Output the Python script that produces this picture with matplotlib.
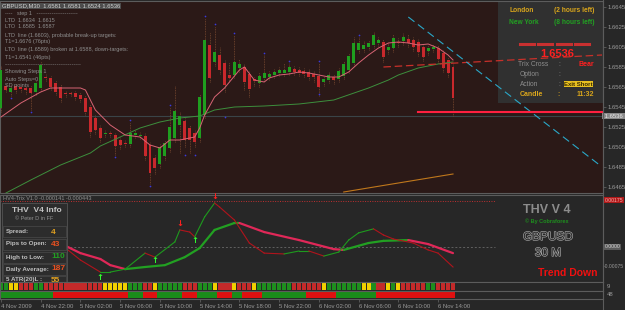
import matplotlib
matplotlib.use("Agg")
import matplotlib.pyplot as plt
import matplotlib.patheffects as pe
from matplotlib.patches import Rectangle
from matplotlib.lines import Line2D


plt.rcParams["font.family"] = ["Liberation Sans", "DejaVu Sans"]

fig_w = 625
fig_h = 310

# ---- price panel data (GBPUSD M30, bar 0 = 4 Nov 2009 18:00) ----
candle_open = [
    1.6544, 1.6566, 1.6560, 1.6566, 1.6565, 1.6564, 1.6564, 1.6560, 1.6564, 1.6575,
    1.6574, 1.6569, 1.6565, 1.6559, 1.6559, 1.6559, 1.6557, 1.6554, 1.6545, 1.6534,
    1.6524, 1.6518, 1.6519, 1.6517, 1.6512, 1.6509, 1.6508, 1.6517, 1.6516, 1.6516,
    1.6507, 1.6494, 1.6488, 1.6496, 1.6504, 1.6514, 1.6527, 1.6531, 1.6524, 1.6519,
    1.6514, 1.6537, 1.6607, 1.6590, 1.6597, 1.6589, 1.6577, 1.6577, 1.6584, 1.6585,
    1.6578, 1.6573, 1.6569, 1.6574, 1.6575, 1.6577, 1.6579, 1.6579, 1.6580, 1.6583,
    1.6582, 1.6581, 1.6580, 1.6578, 1.6576, 1.6570, 1.6572, 1.6575, 1.6573, 1.6576,
    1.6582, 1.6589, 1.6602, 1.6603, 1.6605, 1.6607, 1.6609, 1.6610, 1.6602, 1.6604,
    1.6610, 1.6611, 1.6613, 1.6612, 1.6610, 1.6605, 1.6601, 1.6603, 1.6604, 1.6599,
    1.6592, 1.6585,
]
candle_close = [
    1.6582, 1.6562, 1.6564, 1.6562, 1.6563, 1.6562, 1.6559, 1.6569, 1.6587, 1.6574,
    1.6565, 1.6560, 1.6554, 1.6558, 1.6558, 1.6555, 1.6553, 1.6540, 1.6520, 1.6522,
    1.6514, 1.6519, 1.6518, 1.6506, 1.6507, 1.6508, 1.6519, 1.6519, 1.6517, 1.6496,
    1.6479, 1.6484, 1.6505, 1.6509, 1.6525, 1.6541, 1.6536, 1.6512, 1.6512, 1.6510,
    1.6555, 1.6612, 1.6574, 1.6600, 1.6582, 1.6567, 1.6574, 1.6590, 1.6588, 1.6570,
    1.6563, 1.6571, 1.6576, 1.6579, 1.6578, 1.6580, 1.6582, 1.6582, 1.6585, 1.6580,
    1.6579, 1.6578, 1.6575, 1.6575, 1.6565, 1.6573, 1.6577, 1.6572, 1.6581, 1.6588,
    1.6596, 1.6609, 1.6609, 1.6607, 1.6609, 1.6617, 1.6612, 1.6595, 1.6605, 1.6614,
    1.6609, 1.6615, 1.6609, 1.6605, 1.6600, 1.6595, 1.6604, 1.6605, 1.6593, 1.6584,
    1.6579, 1.6554,
]
candle_high = [
    1.6586, 1.6568, 1.6567, 1.6568, 1.6567, 1.6566, 1.6567, 1.6572, 1.6591, 1.6578,
    1.6576, 1.6572, 1.6568, 1.6561, 1.6561, 1.6561, 1.6560, 1.6557, 1.6548, 1.6537,
    1.6527, 1.6522, 1.6521, 1.6519, 1.6515, 1.6512, 1.6530, 1.6522, 1.6520, 1.6519,
    1.6510, 1.6497, 1.6508, 1.6512, 1.6545, 1.6566, 1.6540, 1.6534, 1.6527, 1.6522,
    1.6558, 1.6634, 1.6620, 1.6626, 1.6605, 1.6592, 1.6590, 1.6617, 1.6593, 1.6588,
    1.6581, 1.6575, 1.6580, 1.6597, 1.6581, 1.6583, 1.6585, 1.6589, 1.6589, 1.6586,
    1.6585, 1.6584, 1.6583, 1.6581, 1.6589, 1.6576, 1.6580, 1.6578, 1.6584, 1.6591,
    1.6599, 1.6615, 1.6615, 1.6611, 1.6612, 1.6620, 1.6615, 1.6613, 1.6609, 1.6618,
    1.6614, 1.6619, 1.6618, 1.6615, 1.6613, 1.6608, 1.6607, 1.6608, 1.6607, 1.6602,
    1.6595, 1.6588,
]
candle_low = [
    1.6540, 1.6560, 1.6556, 1.6559, 1.6560, 1.6558, 1.6542, 1.6557, 1.6561, 1.6571,
    1.6562, 1.6557, 1.6550, 1.6555, 1.6556, 1.6552, 1.6550, 1.6537, 1.6515, 1.6518,
    1.6510, 1.6515, 1.6515, 1.6497, 1.6503, 1.6505, 1.6505, 1.6514, 1.6513, 1.6492,
    1.6468, 1.6478, 1.6484, 1.6492, 1.6500, 1.6510, 1.6499, 1.6505, 1.6499, 1.6505,
    1.6510, 1.6534, 1.6570, 1.6586, 1.6578, 1.6560, 1.6570, 1.6574, 1.6580, 1.6562,
    1.6555, 1.6566, 1.6565, 1.6571, 1.6572, 1.6574, 1.6576, 1.6576, 1.6577, 1.6577,
    1.6576, 1.6575, 1.6572, 1.6570, 1.6556, 1.6566, 1.6569, 1.6568, 1.6570, 1.6573,
    1.6579, 1.6586, 1.6599, 1.6600, 1.6602, 1.6604, 1.6606, 1.6590, 1.6598, 1.6600,
    1.6605, 1.6607, 1.6605, 1.6601, 1.6596, 1.6591, 1.6597, 1.6600, 1.6589, 1.6580,
    1.6575, 1.6536,
]

fractal_idx = [2, 6, 23, 26, 30, 34, 37, 39, 41, 43, 45, 47, 53, 58, 64, 64, 72]
fractal_val = [1.6554, 1.6540, 1.6495, 1.6532, 1.6466, 1.6547, 1.6497, 1.6497,
               1.6636, 1.6628, 1.6535, 1.6619, 1.6599, 1.6591, 1.6558, 1.6591, 1.6617]

fast_ma_idx = [0, 4, 8, 10, 16, 17, 19, 22, 25, 28, 30, 32, 34, 36, 39, 40, 41, 43, 45,
               48, 49, 51, 53, 54, 56, 58, 60, 62, 64, 66, 68, 70, 72, 74, 76, 78, 80,
               82, 84, 86, 88, 90, 91]
fast_ma_val = [1.6535, 1.6549, 1.6560, 1.6564, 1.6564, 1.6562, 1.6542, 1.6527, 1.6517,
               1.6515, 1.6507, 1.6504, 1.6512, 1.6512, 1.6515, 1.6524, 1.6537, 1.6555,
               1.6564, 1.6582, 1.6585, 1.6572, 1.6570, 1.6574, 1.6577, 1.6578, 1.6580,
               1.6579, 1.6577, 1.6575, 1.6575, 1.6580, 1.6589, 1.6597, 1.6604, 1.6609,
               1.6610, 1.6609, 1.6607, 1.6608, 1.6604, 1.6597, 1.6592]

slow_ma_idx = [1, 6, 12, 18, 20, 24, 28, 32, 36, 40, 43, 47, 53, 60, 67, 74, 78, 80,
               84, 88, 91]
slow_ma_val = [1.6459, 1.6472, 1.6487, 1.6499, 1.6506, 1.6515, 1.6524, 1.6530, 1.6534,
               1.6536, 1.6542, 1.6545, 1.6546, 1.6548, 1.6552, 1.6564, 1.6572, 1.6577,
               1.6584, 1.6588, 1.6590]

lto_line_idx = [77, 121]
lto_line_val = [1.6585, 1.6597]
ltd_line_idx = [82, 120.5]
ltd_line_val = [1.6635, 1.6487]
trend_line_idx = [69, 91]
trend_line_val = [1.6460, 1.6478]
target_idx = 84
target_level = 1.6540
bid_price = 1.6536

price_ticks = [1.6465, 1.6485, 1.6505, 1.6525, 1.6545, 1.6565, 1.6585, 1.6605,
               1.6625, 1.6645]

time_idx = [0, 8, 16, 24, 32, 40, 48, 56, 64, 72, 80, 88]
time_labels = ["4 Nov 2009", "4 Nov 22:00", "5 Nov 02:00", "5 Nov 06:00",
               "5 Nov 10:00", "5 Nov 14:00", "5 Nov 18:00", "5 Nov 22:00",
               "6 Nov 02:00", "6 Nov 06:00", "6 Nov 10:00", "6 Nov 14:00"]

# ---- THV trix panel data ----
trix_fast_idx = [13, 16, 20, 22, 25, 29, 31, 35, 36, 38, 39, 41, 43, 44, 47, 50, 53,
                 57, 60, 62, 65, 68, 70, 72, 75, 77, 79, 83, 86, 88, 91]
trix_fast_val = [-0.00004, -0.00049, -0.00094, -0.00094, -0.00083, -0.00023, -0.00038,
                 0.00019, 0.00064, 0.00056, 0.00038, 0.00113, 0.00165, 0.00150,
                 0.00101, 0.00015, -0.00023, -0.00026, -0.00015, -0.00015, -0.00034,
                 -0.00019, 0.00026, 0.00053, 0.00068, 0.00045, 0.00030, 0.00015,
                 -0.00011, -0.00023, -0.00075]
trix_slow_idx = [13, 16, 20, 22, 25, 29, 33, 37, 40, 43, 47, 48, 53, 60, 67, 69, 74,
                 77, 82, 86, 91]
trix_slow_val = [0.00004, -0.00023, -0.00045, -0.00068, -0.00083, -0.00075, -0.00068,
                 -0.00038, -0.00004, 0.00064, 0.00090, 0.00090, 0.00056, 0.00026,
                 -0.00008, -0.00011, 0.00015, 0.00023, 0.00026, 0.00011, -0.00023]
arrow_up_idx = [20, 31, 39]
arrow_up_val = [-0.00113, -0.00049, 0.00026]
arrow_dn_idx = [36, 43]
arrow_dn_val = [0.00090, 0.00188]
trix_level = 0.00173

block_states = list(
    "GGYYRRRGGRRRRRRRRRRRRYYYYYGGGRRYGGGGGRRRGGGYRRRYRRRYGGGGGGG"
    "RRRRRRYGGGGGGGYYGRRYGYRRRRRGGRRRR"
)
strip_states = list(
    "GGGGGGGGGGGRRRRRRRRRRRRRRRGGGRRRGGGGGRRRGGGGRRRGGRRRR"
    "GGGGGGGGGRRRRRRGGGGGGGGRRRRRRRRRRRRRRRR"
)

panel_bg = "#2b1917"
grey_bg = "#272727"
box_bg = "#303030"
line_grey = "#5c5c5c"
label_grey = "#9a9a9a"
bull = "#1f9e1f"
bear = "#c8282c"


def px_axes(fig, x0, y0, x1, y1):
    return fig.add_axes([x0 / fig_w, 1 - y1 / fig_h,
                         (x1 - x0) / fig_w, (y1 - y0) / fig_h])


def put(fig, x, y, s, **kw):
    kw.setdefault("va", "center")
    kw.setdefault("color", label_grey)
    kw.setdefault("fontsize", 4.2)
    return fig.text(x / fig_w, 1 - y / fig_h, s, **kw)


def hline_px(fig, x0, x1, y, color, lw):
    fig.add_artist(Line2D([x0 / fig_w, x1 / fig_w], [1 - y / fig_h, 1 - y / fig_h],
                          color=color, lw=lw, transform=fig.transFigure))


def style_axes(ax, bg):
    ax.set_facecolor(bg)
    ax.set_xlim(-0.2, 121.2)
    ax.set_xticks([])
    ax.set_yticks([])
    for sp in ax.spines.values():
        sp.set_color(line_grey)
        sp.set_linewidth(0.8)


def draw_price(fig):
    ax = px_axes(fig, 0, 1, 603, 193)
    style_axes(ax, panel_bg)
    ax.set_ylim(1.6459, 1.6651)

    ax.add_patch(Rectangle((498 / 603, (193 - 103) / 192), 105 / 603, 1,
                           transform=ax.transAxes, fc=box_bg, ec="none", zorder=1))

    ax.axhline(bid_price, color="#3a4448", lw=0.8, zorder=2)

    idx = list(range(len(candle_open)))
    ax.vlines(idx, candle_low, candle_high, color="#7a4a30", lw=0.6,
              linestyles=(0, (1, 1)), zorder=3)
    colors = [bull if c >= o else bear for o, c in zip(candle_open, candle_close)]
    heights = [max(abs(c - o), 0.00008) for o, c in zip(candle_open, candle_close)]
    bottoms = [min(o, c) for o, c in zip(candle_open, candle_close)]
    ax.bar(idx, heights, bottom=bottoms, width=0.6, color=colors, zorder=4)

    ax.scatter(fractal_idx, fractal_val, s=1.5, color="#3a3adc", zorder=5, lw=0)

    ax.plot(slow_ma_idx, slow_ma_val, color="#3d8f3d", lw=0.7, zorder=5)
    ax.plot(fast_ma_idx, fast_ma_val, color="#d86474", lw=0.7, zorder=5)
    ax.plot(trend_line_idx, trend_line_val, color="#c0781c", lw=0.8, zorder=5)
    ax.plot(lto_line_idx, lto_line_val, color="#c8302a", lw=0.9,
            dashes=(6, 3), zorder=6)
    ax.plot(ltd_line_idx, ltd_line_val, color="#2aa8c8", lw=0.8,
            dashes=(7, 4), zorder=6)
    ax.plot([target_idx, 121.2], [target_level, target_level], color="#ff2040",
            lw=1.5, zorder=6)

    ax.yaxis.tick_right()
    ax.set_yticks(price_ticks)
    ax.set_yticklabels(["%.4f" % p for p in price_ticks])
    ax.tick_params(axis="y", length=2, width=0.6, color=line_grey, pad=1.5,
                   labelsize=4.3, labelcolor=label_grey)
    ax.text(1.0, bid_price, " %.4f " % bid_price, transform=ax.get_yaxis_transform(),
            fontsize=4.3, color="#e8e8e8", va="center", ha="left",
            bbox=dict(fc="#8a8a8a", ec="none", pad=0.6), clip_on=False)
    return ax


def draw_info_text(fig):
    put(fig, 2, 6, "GBPUSD,M30  1.6581 1.6581 1.6524 1.6536", color="#d0d0d0",
        bbox=dict(fc="#4c4c4c", ec="none", pad=0.4))
    lines = [
        (13, "----   step 1   ----------------------"),
        (20, "LTD  1.6634  1.6615"),
        (27, "LTO  1.6585  1.6587"),
        (35, "LTD  line (1.6603), probable break-up targets:"),
        (42, "T1=1.6676 (76pts)"),
        (50, "LTO  line (1.6589) broken at 1.6588, down-targets:"),
        (57, "T1=1.6541 (46pts)"),
        (65, "-----------------------------------------"),
        (72, "Showing Steps 1"),
        (79, "Auto Steps=0"),
        (86, "SD points"),
    ]
    for y, s in lines:
        put(fig, 5, y, s, color="#8e8e8e", fontsize=4.0)

    gold = "#d9a51c"
    green = "#22a022"
    put(fig, 509, 10, "London", color=gold, fontweight="bold", fontsize=4.8)
    put(fig, 594, 10, "(2 hours left)", color=gold, fontweight="bold",
        fontsize=4.8, ha="right")
    put(fig, 509, 22, "New York", color=green, fontweight="bold", fontsize=4.8)
    put(fig, 594, 22, "(8 hours left)", color=green, fontweight="bold",
        fontsize=4.8, ha="right")
    for x0 in [520, 538, 557, 575]:
        hline_px(fig, x0, x0 + 14, 44, "#c83030", 2.2)
    put(fig, 557, 54, "1.6536", color="#ff2020", fontweight="bold", fontsize=8,
        ha="center")
    put(fig, 518, 65, "Trix Cross", color="#8e8e8e", fontsize=4.8)
    put(fig, 558, 65, ":", color="#8e8e8e", fontsize=4.8)
    put(fig, 594, 65, "Bear", color="#ff2020", fontweight="bold", fontsize=5,
        ha="right")
    put(fig, 520, 75, "Option", color="#8e8e8e", fontsize=4.8)
    put(fig, 558, 75, ":", color="#8e8e8e", fontsize=4.8)
    put(fig, 520, 84, "Action", color="#8e8e8e", fontsize=4.8)
    put(fig, 558, 84, ":", color="#8e8e8e", fontsize=4.8)
    put(fig, 593, 84, "Exit Short", color="#3a2c00", fontweight="bold",
        fontsize=4.3, ha="right", bbox=dict(fc="#e8c020", ec="none", pad=0.3))
    put(fig, 520, 94, "Candle", color=gold, fontweight="bold", fontsize=5)
    put(fig, 557, 94, ":", color=gold, fontweight="bold", fontsize=5)
    put(fig, 594, 94, "11:32", color=gold, fontweight="bold", fontsize=5,
        ha="right")


def draw_trix(fig):
    ax = px_axes(fig, 0, 195, 603, 282)
    style_axes(ax, grey_bg)
    ax.set_ylim(-0.0013125, 0.00195)

    ax.plot([-0.2, 99.5], [trix_level, trix_level], color="#c03030", lw=0.7,
            linestyle=(0, (1, 1.5)), zorder=2)
    ax.plot([13, 99.5], [0, 0], color="#606060", lw=0.7,
            linestyle=(0, (2, 2)), zorder=2)

    for k in range(len(trix_slow_idx) - 1):
        up = trix_slow_val[k + 1] >= trix_slow_val[k]
        ax.plot(trix_slow_idx[k:k + 2], trix_slow_val[k:k + 2],
                color="#22a022" if up else "#e02858", lw=1.6,
                solid_capstyle="round", zorder=3)
    for k in range(len(trix_fast_idx) - 1):
        up = trix_fast_val[k + 1] >= trix_fast_val[k]
        ax.plot(trix_fast_idx[k:k + 2], trix_fast_val[k:k + 2],
                color="#1e9a1e" if up else "#b0141c", lw=0.8, zorder=4)

    for i, v in zip(arrow_up_idx, arrow_up_val):
        ax.text(i, v, "\u2191", color="#30ff30", fontsize=6, fontweight="bold",
                ha="center", va="center", family="DejaVu Sans", zorder=5)
    for i, v in zip(arrow_dn_idx, arrow_dn_val):
        ax.text(i, v, "\u2193", color="#ff2020", fontsize=6, fontweight="bold",
                ha="center", va="center", family="DejaVu Sans", zorder=5)

    # info box on the left
    ax_box = ax.transAxes
    ax.add_patch(Rectangle((2 / 603, 0), 65 / 603, (282 - 203) / 87,
                           transform=ax_box, fc="#2c2c2c", ec=line_grey, lw=0.5,
                           zorder=6))
    for y0 in [225, 238, 251, 263, 275]:
        ax.add_patch(Rectangle((3 / 603, (282 - y0 - 12) / 87), 63 / 603, 11.5 / 87,
                               transform=ax_box, fc="none", ec="#4a4a4a", lw=0.5,
                               zorder=7))
    put(fig, 12, 211, "THV  V4 Info", color="#c4c4c4", fontweight="bold",
        fontsize=6)
    put(fig, 15, 219, "\u00a9 Peter D in FF", color="#909090", fontsize=4)
    rows = [
        (232, "Spread:", "4", "#e0a020"),
        (244, "Pips to Open:", "43", "#e85020"),
        (257, "High to Low:", "110", "#22a022"),
        (269, "Daily Average:", "187", "#e85020"),
    ]
    for y, lab, val, col in rows:
        put(fig, 6, y, lab, color="#c0c0c0", fontweight="bold", fontsize=4.5)
        put(fig, 51, y, val, color=col, fontweight="bold", fontsize=6)
    t1 = put(fig, 6, 280, "5 ATR(20)L :", color="#c0c0c0", fontweight="bold",
             fontsize=4.5)
    t2 = put(fig, 51, 280, "55", color="#e0a020", fontweight="bold", fontsize=6)
    for t in (t1, t2):
        t.set_clip_box(ax.bbox)
        t.set_clip_on(True)

    put(fig, 3, 198, "HV4-Trix V1.0 -0.000141 -0.000443", color="#909090",
        fontsize=4.0)

    put(fig, 547, 210, "THV V 4", color="#8c8c8c", fontweight="bold",
        fontsize=9, ha="center")
    put(fig, 547, 221, "\u00a9 By Cobraforex", color="#1e8e1e",
        fontweight="bold", fontsize=4, ha="center")
    hollow = [pe.withStroke(linewidth=0.9, foreground="#a8a8a8")]
    put(fig, 548, 237, "GBPUSD", color=grey_bg, fontsize=8.5, ha="center",
        path_effects=hollow)
    put(fig, 548, 253, "30 M", color=grey_bg, fontsize=8.5, ha="center",
        path_effects=hollow)
    put(fig, 598, 273, "Trend Down", color="#f01010", fontweight="bold",
        fontsize=7.5, ha="right")

    put(fig, 605, 200, "0.00175", color="#f4b0b0", fontsize=3.7,
        bbox=dict(fc="#b01818", ec="none", pad=0.4))
    put(fig, 605, 247, "0.0000", color="#d8d8d8", fontsize=3.7,
        bbox=dict(fc="#5a5a5a", ec="none", pad=0.4))
    put(fig, 604, 267, "-0.00075", color=label_grey, fontsize=3.6)
    return ax


def draw_bars(fig):
    palette = {"G": "#1e8e1e", "R": "#c42a2a", "Y": "#f2d000"}
    idx = list(range(len(block_states)))

    ax_blk = px_axes(fig, 0, 282, 603, 291)
    style_axes(ax_blk, grey_bg)
    ax_blk.set_ylim(0, 1)
    ax_blk.bar(idx, 0.86, bottom=0.07, width=0.82,
               color=[palette[s] for s in block_states])
    put(fig, 607, 287, "9", fontsize=4.3)

    strip_pal = {"G": "#1a8c1a", "R": "#e01010"}
    ax_strip = px_axes(fig, 0, 291, 603, 299)
    style_axes(ax_strip, grey_bg)
    ax_strip.set_ylim(0, 1)
    ax_strip.bar(idx, 0.8, bottom=0.1, width=1.0,
                 color=[strip_pal[s] for s in strip_states])
    put(fig, 607, 295, "48", fontsize=4.3)

    ax_strip.set_xticks(time_idx)
    ax_strip.set_xticklabels(time_labels, ha="left")
    ax_strip.tick_params(axis="x", length=2, width=0.6, color=line_grey, pad=1.5,
                         labelsize=4.3, labelcolor=label_grey)


def main():
    fig = plt.figure(figsize=(fig_w / 100, fig_h / 100), dpi=100)
    fig.patch.set_facecolor(grey_bg)

    draw_price(fig)
    draw_info_text(fig)
    draw_trix(fig)
    draw_bars(fig)

    fig.add_artist(Line2D([603 / fig_w, 603 / fig_w], [0, 1], color=line_grey,
                          lw=0.8, transform=fig.transFigure))

    fig.savefig("out.png", dpi=100, facecolor=fig.get_facecolor())


if __name__ == "__main__":
    main()
